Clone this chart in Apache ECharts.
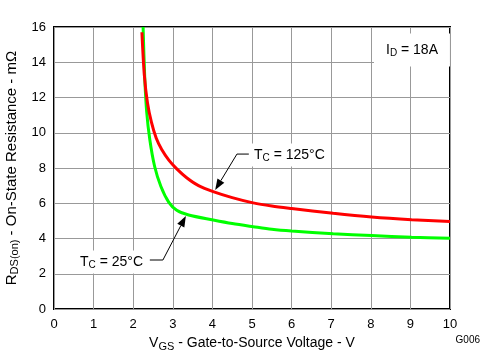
<!DOCTYPE html>
<html><head><meta charset="utf-8">
<script src="https://cdn.jsdelivr.net/npm/echarts@6/dist/echarts.min.js"></script>
<style>html,body{margin:0;padding:0;background:#fff}#c{width:499px;height:360px}</style>
</head><body><div id="c"></div>
<script>
var xTicks = [0,1,2,3,4,5,6,7,8,9,10];
var yTicks = [0,2,4,6,8,10,12,14,16];
var red125 = [[2.22,15.7],[2.28,13.3],[2.36,11.7],[2.46,10.6],[2.58,9.7],[2.72,9.05],[2.9,8.45],[3.1,7.95],[3.35,7.45],[3.65,7.0],[4.02,6.66],[4.5,6.32],[5.03,6.02],[5.5,5.84],[6.0,5.7],[7.05,5.43],[8.02,5.22],[9.03,5.07],[10.0,4.97]];
var green25 = [[2.25,16],[2.29,13.2],[2.34,11.2],[2.42,9.6],[2.54,8.1],[2.7,6.95],[2.9,6.05],[3.1,5.6],[3.4,5.33],[4.02,5.05],[4.5,4.85],[5.03,4.67],[5.5,4.52],[6.0,4.42],[7.05,4.27],[8.02,4.17],[9.03,4.07],[10.0,4.01]];
var ann125Line = [[4.92,8.79],[4.62,8.79],[4.07,6.75]];
var ann125Text = [5.0,8.74];
var ann25Line = [[2.42,2.78],[2.75,2.78],[3.33,5.28]];
var ann25Text = [2.30,2.67];
var idText = [9.04,14.7];

var FONT = 'Liberation Sans, Arial, sans-serif';
var chart = echarts.init(document.getElementById('c'));
var richX = {
  r:{fontFamily:FONT,fontSize:14,color:'#000'},
  s:{fontFamily:FONT,fontSize:11,color:'#000',verticalAlign:'bottom',padding:[6,0,0,0]}
};
var richY = {
  r:{fontFamily:FONT,fontSize:15,color:'#000'},
  s:{fontFamily:FONT,fontSize:11,color:'#000',verticalAlign:'bottom',padding:[7,0,0,0]}
};
chart.setOption({
  animation:false,
  backgroundColor:'#fff',
  grid:{left:54,right:49,top:27,bottom:51,show:true,borderColor:'#000',borderWidth:2,containLabel:false,outerBoundsMode:'none'},
  xAxis:{type:'value',min:0,max:10,interval:1,
    axisLine:{show:false},axisTick:{show:false},
    axisLabel:{fontFamily:FONT,fontSize:13,color:'#000',margin:9},
    splitLine:{show:true,lineStyle:{color:'#999',width:1}},
    name:'{r|V}{s|GS}{r| - Gate-to-Source Voltage - V}',nameLocation:'middle',nameGap:26,
    nameTextStyle:{rich:richX}},
  yAxis:{type:'value',min:0,max:16,interval:2,
    axisLine:{show:false},axisTick:{show:false},
    axisLabel:{fontFamily:FONT,fontSize:13,color:'#000',margin:8},
    splitLine:{show:true,lineStyle:{color:'#999',width:1}},
    name:'{r|R}{s|DS(on)}{r| - On-State Resistance - mΩ}',nameLocation:'middle',nameGap:32,
    nameTextStyle:{rich:richY}},
  series:[
    {type:'line',data:red125,showSymbol:false,smooth:0.3,lineStyle:{color:'#ff0000',width:3},clip:true,z:3},
    {type:'line',data:green25,showSymbol:false,smooth:0.3,lineStyle:{color:'#00ff00',width:3},clip:true,z:2}
  ]
});

function px(p){return chart.convertToPixel({gridIndex:0},p);}
function leader(pts){
  var P = pts.map(px);
  var a = P[P.length-2], b = P[P.length-1];
  var dx=b[0]-a[0], dy=b[1]-a[1], L=Math.sqrt(dx*dx+dy*dy); dx/=L; dy/=L;
  var len=11, hw=4;
  var base=[b[0]-dx*len,b[1]-dy*len];
  var tri=[b,[base[0]-dy*hw,base[1]+dx*hw],[base[0]+dy*hw,base[1]-dx*hw]];
  return [
    {type:'polyline',shape:{points:P.slice(0,P.length-1).concat([base])},style:{stroke:'#000',lineWidth:1,fill:null},z:10},
    {type:'polygon',shape:{points:tri},style:{fill:'#000'},z:10}
  ];
}
var t125 = px(ann125Text), t25 = px(ann25Text), tid = px(idText);
var trich = {
  r:{fontFamily:FONT,fontSize:14,color:'#000'},
  s:{fontFamily:FONT,fontSize:10,color:'#000',verticalAlign:'bottom',padding:[7,0,0,0]}
};
var g = [];
g = g.concat(leader(ann125Line), leader(ann25Line));
g.push({type:'text',x:t125[0],y:t125[1],z:11,style:{text:'{r|T}{s|C}{r| = 125°C}',rich:trich,align:'left',verticalAlign:'middle',backgroundColor:'#fff',padding:[3,2,3,2]}});
g.push({type:'text',x:t25[0],y:t25[1],z:11,style:{text:'{r|T}{s|C}{r| = 25°C}',rich:trich,align:'right',verticalAlign:'middle',backgroundColor:'#fff',padding:[3,2,3,2]}});
g.push({type:'text',x:tid[0],y:tid[1],z:11,style:{text:'{r|I}{s|D}{r| = 18A}',rich:trich,align:'center',verticalAlign:'middle',backgroundColor:'#fff',padding:[8,12,8,12]}});
g.push({type:'text',right:19,top:335,z:11,style:{text:'G006',fontFamily:FONT,fontSize:10,fill:'#000'}});
chart.setOption({graphic:g});
</script></body></html>
